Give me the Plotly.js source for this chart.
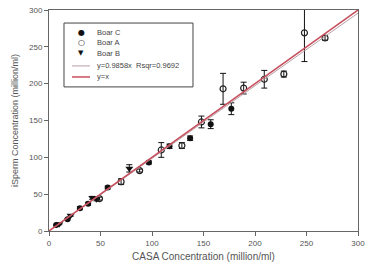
<!DOCTYPE html>
<html><head><meta charset="utf-8">
<script src="https://cdn.plot.ly/plotly-3.0.1.min.js"></script>
<style>html,body{margin:0;padding:0;background:#fff}#g{width:365px;height:269px}</style>
</head><body><div id="g"></div>
<script>
const boarCx = [7, 18, 30, 38, 57, 97, 117, 137, 157, 177];
const boarCy = [8, 16, 31, 37, 59, 93, 115, 126, 145, 166];
const boarCe = [1, 1, 2, 2, 2, 2, 3, 3, 6, 8];

const boarAx = [49, 70, 88, 109, 129, 148, 169, 189, 209, 228, 248, 268];
const boarAy = [44, 67, 82, 110, 116, 148, 193, 194, 206, 213, 269, 262];
const boarAe = [2, 4, 2, 10, 4, 8, 21, 8, 12, 4, 39, 3];

const boarBx = [10, 21, 42, 46, 78];
const boarBy = [9.5, 21, 45, 43, 85];
const boarBe = [1, 1, 2, 2, 5];

const lineX = [0, 300];
const fitSlope = 0.9858;
const seriesNames = ["Boar C", "Boar A", "Boar B"];
const fitLabel = "y=0.9858x  Rsqr=0.9692";
const idLabel = "y=x";
const tickVals = [0, 50, 100, 150, 200, 250, 300];

const FONT = 'Liberation Sans, Arial, sans-serif';
const fitColor = '#b8a0a6';
const idColor = '#c8505e';

const eb = (arr) => ({type: 'data', array: arr, visible: true, color: '#111', thickness: 1, width: 3});

const traces = [
  {x: boarCx, y: boarCy, error_y: eb(boarCe), mode: 'markers', type: 'scatter', name: seriesNames[0],
   marker: {symbol: 'circle', size: 6, color: '#111'}},
  {x: boarAx, y: boarAy, error_y: eb(boarAe), mode: 'markers', type: 'scatter', name: seriesNames[1],
   marker: {symbol: 'circle-open', size: 6, color: '#222', line: {width: 1.2}}},
  {x: boarBx, y: boarBy, error_y: eb(boarBe), mode: 'markers', type: 'scatter', name: seriesNames[2],
   marker: {symbol: 'triangle-down', size: 7, color: '#111'}},
  {x: lineX, y: lineX.map(v => v * fitSlope), mode: 'lines', type: 'scatter', name: fitLabel,
   line: {color: fitColor, width: 1}},
  {x: lineX, y: lineX, mode: 'lines', type: 'scatter', name: idLabel,
   line: {color: idColor, width: 1.5}}
];

// compact legend built from shapes and annotations (paper coords)
const legRows = [0.896, 0.851, 0.805, 0.747, 0.697];
const symX = 0.1036, textX = 0.149, lineX0 = 0.0744, lineX1 = 0.1327;
const legSymbols = ['\u25CF', '\u25CB', '\u25BC'];
const legSymSize = [8, 8, 7];
const shapes = [
  {type: 'rect', xref: 'paper', yref: 'paper', x0: 0.0485, x1: 0.466, y0: 0.652, y1: 0.941,
   line: {color: '#444', width: 1}, fillcolor: '#fff', layer: 'above'},
  {type: 'line', xref: 'paper', yref: 'paper', x0: lineX0, x1: lineX1, y0: legRows[3], y1: legRows[3],
   line: {color: fitColor, width: 1}},
  {type: 'line', xref: 'paper', yref: 'paper', x0: lineX0, x1: lineX1, y0: legRows[4], y1: legRows[4],
   line: {color: idColor, width: 1.5}}
];
const annotations = [];
const labels = seriesNames.concat([fitLabel, idLabel]);
labels.forEach((t, i) => {
  annotations.push({xref: 'paper', yref: 'paper', x: textX, y: legRows[i], xanchor: 'left', yanchor: 'middle',
    text: t, showarrow: false, font: {family: FONT, size: 7.5, color: '#444'}});
});
legSymbols.forEach((s, i) => {
  annotations.push({xref: 'paper', yref: 'paper', x: symX, y: legRows[i], xanchor: 'center', yanchor: 'middle',
    text: s, showarrow: false, font: {family: 'DejaVu Sans', size: legSymSize[i], color: '#111'}});
});

const axisBase = {
  range: [0, 300], tickvals: tickVals, ticklabeloverflow: 'allow',
  showline: true, linecolor: '#666', linewidth: 1, mirror: true,
  ticks: 'outside', ticklen: 4, tickcolor: '#666',
  showgrid: false, zeroline: false,
  tickfont: {family: FONT, size: 8, color: '#555'}
};

const layout = {
  width: 365, height: 269,
  margin: {l: 49, r: 7, t: 10, b: 38},
  paper_bgcolor: '#fff', plot_bgcolor: '#fff',
  showlegend: false,
  shapes: shapes,
  annotations: annotations,
  xaxis: Object.assign({}, axisBase, {
    title: {text: 'CASA Concentration (million/ml)', standoff: 6,
      font: {family: FONT, size: 10, color: '#555'}}
  }),
  yaxis: Object.assign({}, axisBase, {
    title: {text: 'iSperm Concentration (million/ml)', standoff: 8,
      font: {family: FONT, size: 9, color: '#555'}}
  })
};

Plotly.newPlot('g', traces, layout, {displayModeBar: false, staticPlot: true});
</script></body></html>
